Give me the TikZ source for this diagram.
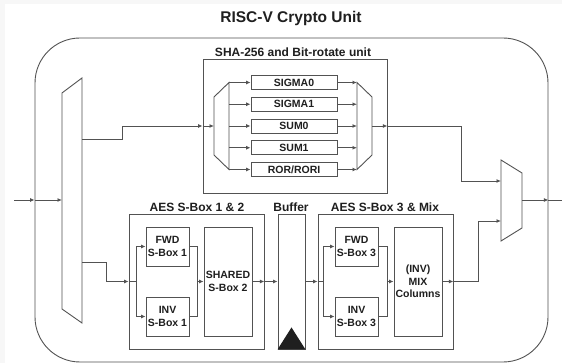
\documentclass[tikz,border=0pt]{standalone}
\usepackage{fontspec}
\setmainfont{Liberation Sans}
\usetikzlibrary{arrows.meta}
\colorlet{colorWire}{black!68}
\colorlet{colorText}{black!88}
\tikzset{
   every path/.style={>={Latex[length=4.5pt,width=4pt]}},
   wire/.style={draw=colorWire,line width=0.9pt},
   sig/.style={->,wire},
   mux/.style={draw=colorWire,line width=0.9pt,line join=miter},
   blk/.style={draw=colorWire,line width=0.9pt,inner sep=0pt,text=colorText,align=center,
      font=\fontsize{10.5}{12.5}\selectfont\bfseries},
   unit/.style={draw=colorWire,line width=0.9pt,inner sep=0pt},
   title/.style={text=colorText,inner sep=0pt,font=\fontsize{12}{14}\selectfont\bfseries},
}
\begin{document}
\begin{tikzpicture}[x=1pt,y=-1pt]
        \useasboundingbox (0,0) rectangle (562,363);
        \fill[gray!6] (0,0) rectangle (562,363);
        \fill[white] (5,4) rectangle (562,363);

        \node[title,font=\fontsize{15.5}{18}\selectfont\bfseries] (head) at (291,18.5) {RISC-V Crypto Unit};
        \node[unit,rounded corners=45pt,minimum width=513pt,minimum height=324pt] (crypto) at (291.5,200) {};

        % input demux
        \draw[mux] (62,93) -- (82,78) -- (82,323) -- (62,309) -- cycle;
        \coordinate (in) at (14,200);
        \coordinate (dmx) at (62,200);
        \coordinate (dmxa) at (82,139);
        \coordinate (dmxb) at (82,262);
        \draw[sig] (in) -- (crypto.west);
        \draw[sig] (crypto.west) -- (dmx);

        % SHA-256 unit
        \node[unit,minimum width=184pt,minimum height=134pt] (sha) at (295,126) {};
        \node[title] (shat) at (293,52) {SHA-256 and Bit-rotate unit};
        \foreach \i/\txt in {0/SIGMA0,1/SIGMA1,2/SUM0,3/SUM1,4/{ROR/RORI}} {
          \node[blk,minimum width=86pt,minimum height=14pt] (f\i) at (294,82.5+21.75*\i) {\txt};
          \coordinate (d\i) at (229,82.5+21.75*\i);
          \coordinate (m\i) at (357,82.5+21.75*\i);
          \draw[sig] (d\i) -- (f\i);
          \draw[sig] (f\i) -- (m\i);
        }
        \coordinate (dsha) at (214,126);
        \coordinate (msha) at (372,126);
        \draw[mux] (214,97) -- (d0) -- (d4) -- (214,155) -- cycle;
        \draw[mux] (m0) -- (372,97) -- (372,155) -- (m4) -- cycle;
        \draw[sig] (dmxa) -- (122,139) |- (sha.west);
        \draw[sig] (sha.west) -- (dsha);

        % output mux
        \draw[mux] (501,160) -- (522,173) -- (522,228) -- (501,241) -- cycle;
        \coordinate (mxa) at (501,181);
        \coordinate (mxb) at (501,221);
        \coordinate (mxo) at (522,200);
        \coordinate (out) at (562,200);
        \draw[sig] (msha) -- (sha.east);
        \draw[sig] (sha.east) -- (461,126) |- (mxa);
        \draw[sig] (mxo) -- (crypto.east);
        \draw[wire] (crypto.east) -- (out);

        % AES S-Box 1 & 2
        \node[unit,minimum width=135pt,minimum height=135pt] (aes1) at (196.5,281.5) {};
        \node[title] (aes1t) at (197,207) {AES S-Box 1 \& 2};
        \node[blk,minimum width=43pt,minimum height=39pt] (fwd1) at (167.5,246.5) {FWD\\S-Box 1};
        \node[blk,minimum width=43pt,minimum height=39pt] (inv1) at (167.5,316.5) {INV\\S-Box 1};
        \node[blk,minimum width=48pt,minimum height=109pt] (sbox2) at (228,281.5) {SHARED\\S-Box 2};
        \coordinate (br1) at (136,281.5);
        \coordinate (mg1) at (197,281.5);
        \draw[sig] (dmxb) -- (106,262) |- (aes1.west);
        \draw[wire] (aes1.west) -- (br1);
        \draw[sig] (br1) |- (fwd1);
        \draw[sig] (br1) |- (inv1);
        \draw[wire] (fwd1) -| (mg1);
        \draw[wire] (inv1) -| (mg1);
        \draw[sig] (mg1) -- (sbox2);
        \draw[sig] (sbox2) -- (aes1.east);

        % buffer
        \node[unit,minimum width=27pt,minimum height=135pt] (buf) at (291.5,281.5) {};
        \node[title] (buft) at (291,207) {Buffer};
        \fill[colorText] (buf.south west) -- (buf.south east) -- ([yshift=22pt]buf.south) -- cycle;
        \draw[sig] (aes1.east) -- (buf);

        % AES S-Box 3 & Mix
        \node[unit,minimum width=135pt,minimum height=135pt] (aes2) at (385.5,281.5) {};
        \node[title] (aes2t) at (385,207) {AES S-Box 3 \& Mix};
        \node[blk,minimum width=43pt,minimum height=39pt] (fwd3) at (356.5,246.5) {FWD\\S-Box 3};
        \node[blk,minimum width=43pt,minimum height=39pt] (inv3) at (356.5,316.5) {INV\\S-Box 3};
        \node[blk,minimum width=48pt,minimum height=109pt] (mix) at (418,281.5) {(INV)\\MIX\\Columns};
        \coordinate (br2) at (323,281.5);
        \coordinate (mg2) at (387,281.5);
        \draw[sig] (buf) -- (aes2.west);
        \draw[wire] (aes2.west) -- (br2);
        \draw[sig] (br2) |- (fwd3);
        \draw[sig] (br2) |- (inv3);
        \draw[wire] (fwd3) -| (mg2);
        \draw[wire] (inv3) -| (mg2);
        \draw[sig] (mg2) -- (mix);
        \draw[sig] (mix) -- (aes2.east);
        \draw[sig] (aes2.east) -- (478,281.5) |- (mxb);
      \end{tikzpicture}
\end{document}
